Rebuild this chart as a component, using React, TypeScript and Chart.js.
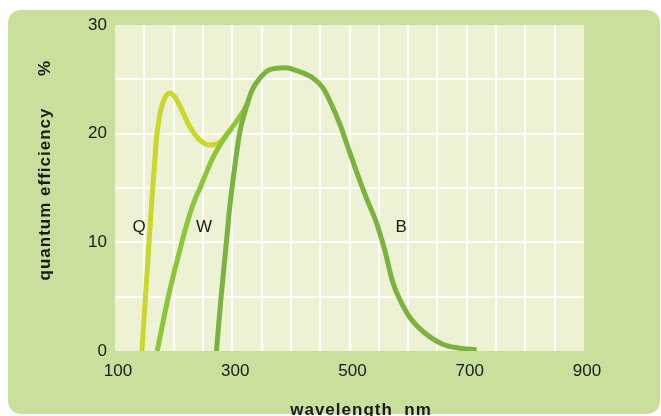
import React, { useEffect, useRef } from 'react';
import { Chart, registerables } from 'chart.js';

Chart.register(...registerables);

// Wavelength (nm) and quantum efficiency (%) per curve
const qWavelength = [146, 152, 158, 163, 168, 171, 177, 185, 194, 203, 211, 228, 245, 262, 279, 290, 300];
const qEfficiency = [0, 5, 10, 14, 17.6, 19.7, 21.9, 23.3, 23.75, 23.3, 22.5, 20.6, 19.4, 18.95, 19.2, 19.9, 20.5];

const wWavelength = [172, 191, 214, 226, 236, 245, 255, 268, 282, 296, 318, 328];
const wEfficiency = [0, 5, 10, 12.3, 13.9, 15.0, 16.3, 17.9, 19.2, 20.3, 22.0, 23.0];

const bWavelength = [273, 281, 290, 296, 304.7, 313, 321.7, 333, 347, 364, 390, 415, 438, 455, 470, 484, 498, 512, 529, 546, 560, 574, 598, 617, 637, 660, 683, 717];
const bEfficiency = [0, 5, 10, 13.4, 17.1, 20.2, 22.0, 23.9, 25.1, 25.9, 26.07, 25.7, 25.1, 24.2, 22.6, 20.8, 18.65, 16.5, 14.05, 11.8, 9.3, 6.3, 3.5, 2.2, 1.3, 0.6, 0.3, 0.1];

const xTickLabels = [100, 300, 500, 700, 900];
const yTickLabels = [0, 10, 20, 30];

const curveNames = ['Q', 'W', 'B'];
const curveLabelWavelength = [141, 252, 588];
const curveLabelEfficiency = [11.4, 11.4, 11.4];

const xTitle = 'wavelength  nm';
const yTitle = 'quantum efficiency';
const yUnit = '%';

export default function App() {
  const ref = useRef<HTMLCanvasElement>(null);

  useEffect(() => {
    if (!ref.current) return;
    const pts = (xs: number[], ys: number[]) => xs.map((x, i) => ({ x, y: ys[i] }));
    const font = 'Liberation Sans, Arial, sans-serif';

    const bgPlugin = {
      id: 'bg',
      beforeDraw(chart: any) {
        const ctx = chart.ctx;
        ctx.save();
        ctx.fillStyle = '#c8e09c';
        ctx.beginPath();
        (ctx as any).roundRect(8, 10, 652, 404, 13);
        ctx.fill();
        const a = chart.chartArea;
        ctx.fillStyle = '#ecf2d3';
        ctx.fillRect(a.left, a.top, a.right - a.left, a.bottom - a.top);
        ctx.restore();
      },
    };

    const textPlugin = {
      id: 'texts',
      afterDraw(chart: any) {
        const ctx = chart.ctx;
        const xs = chart.scales.x;
        const ys = chart.scales.y;
        ctx.save();
        ctx.fillStyle = '#1a1a1a';
        ctx.font = `17px ${font}`;
        ctx.textAlign = 'center';
        ctx.textBaseline = 'middle';
        curveNames.forEach((n, i) => {
          ctx.fillText(n, xs.getPixelForValue(curveLabelWavelength[i]), ys.getPixelForValue(curveLabelEfficiency[i]));
        });
        ctx.font = `bold 17px ${font}`;
        (ctx as any).letterSpacing = '1px';
        ctx.textBaseline = 'alphabetic';
        ctx.fillText(xTitle, 361, 415);
        ctx.translate(50, 0);
        ctx.rotate(-Math.PI / 2);
        ctx.fillText(yTitle, -194, 0);
        ctx.fillText(yUnit, -68, 0);
        ctx.restore();
      },
    };

    const line = (data: any, color: string) => ({
      data,
      borderColor: color,
      backgroundColor: color,
      borderWidth: 5,
      pointRadius: 0,
      fill: false,
      cubicInterpolationMode: 'monotone' as const,
      borderCapStyle: 'butt' as const,
    });

    const chart = new Chart(ref.current, {
      type: 'line',
      data: {
        datasets: [
          line(pts(bWavelength, bEfficiency), '#7bb341'),
          line(pts(wWavelength, wEfficiency), '#8cc63a'),
          line(pts(qWavelength, qEfficiency), '#cbd72b'),
        ],
      },
      options: {
        responsive: false,
        animation: false,
        layout: { padding: { left: 0, top: 25, right: 77, bottom: 0 } },
        plugins: { legend: { display: false }, tooltip: { enabled: false }, title: { display: false } },
        scales: {
          x: {
            type: 'linear',
            min: 100,
            max: 900,
            border: { display: false },
            grid: {
              color: (c: any) => (c.tick && (c.tick.value === 100 || c.tick.value === 900) ? 'rgba(0,0,0,0)' : '#ffffff'),
              lineWidth: 2,
              drawTicks: false,
            },
            ticks: {
              stepSize: 50,
              autoSkip: false,
              maxRotation: 0,
              padding: 10,
              labelOffset: 3,
              color: '#1a1a1a',
              font: { family: font, size: 17 },
              callback: (v: any) => (xTickLabels.includes(Number(v)) ? String(v) : ''),
            },
            afterFit: (s: any) => { s.height = 65; },
          },
          y: {
            min: 0,
            max: 30,
            border: { display: false },
            grid: {
              color: (c: any) => (c.tick && (c.tick.value === 0 || c.tick.value === 30) ? 'rgba(0,0,0,0)' : '#ffffff'),
              lineWidth: 2,
              drawTicks: false,
            },
            ticks: {
              stepSize: 5,
              autoSkip: false,
              padding: 8,
              color: '#1a1a1a',
              font: { family: font, size: 17 },
              callback: (v: any) => (yTickLabels.includes(Number(v)) ? String(v) : ''),
            },
            afterFit: (s: any) => { s.width = 115; },
          },
        },
      },
      plugins: [bgPlugin, textPlugin],
    });
    return () => chart.destroy();
  }, []);

  return (
    <div style={{ position: 'fixed', left: 0, top: 0, width: 661, height: 416 }}>
      <canvas ref={ref} width={661} height={416} style={{ display: 'block', width: 661, height: 416 }} />
    </div>
  );
}
